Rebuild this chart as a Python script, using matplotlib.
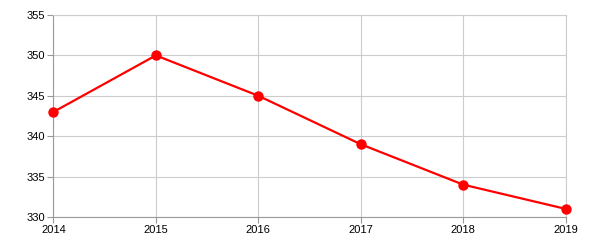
import matplotlib
matplotlib.use("Agg")
from matplotlib import pyplot as plt

years = [2014, 2015, 2016, 2017, 2018, 2019]
values = [343, 350, 345, 339, 334, 331]
y_ticks = [330, 335, 340, 345, 350, 355]

plt.rcParams['font.family'] = ['Liberation Sans', 'DejaVu Sans']

fig = plt.figure(figsize=(6, 2.5), dpi=100)
ax = fig.add_axes([0.089, 0.132, 0.854, 0.808])

ax.plot(years, values, color='#ff0000', linewidth=1.6, marker='o',
        markersize=7.5, markeredgewidth=0, zorder=3, clip_on=False)

ax.set_xlim(2014, 2019)
ax.set_ylim(330, 355)
ax.set_xticks(years)
ax.set_yticks(y_ticks)
ax.grid(True, color='#cccccc', linewidth=0.8)
ax.set_axisbelow(True)

for side in ['top', 'right']:
    ax.spines[side].set_color('#cccccc')
    ax.spines[side].set_linewidth(0.8)
for side in ['left', 'bottom']:
    ax.spines[side].set_color('#999999')
    ax.spines[side].set_linewidth(0.8)

ax.tick_params(axis='both', length=4, width=0.8, color='#999999',
               labelsize=8, labelcolor='#000000', pad=2)

fig.savefig('out.png', dpi=100)
